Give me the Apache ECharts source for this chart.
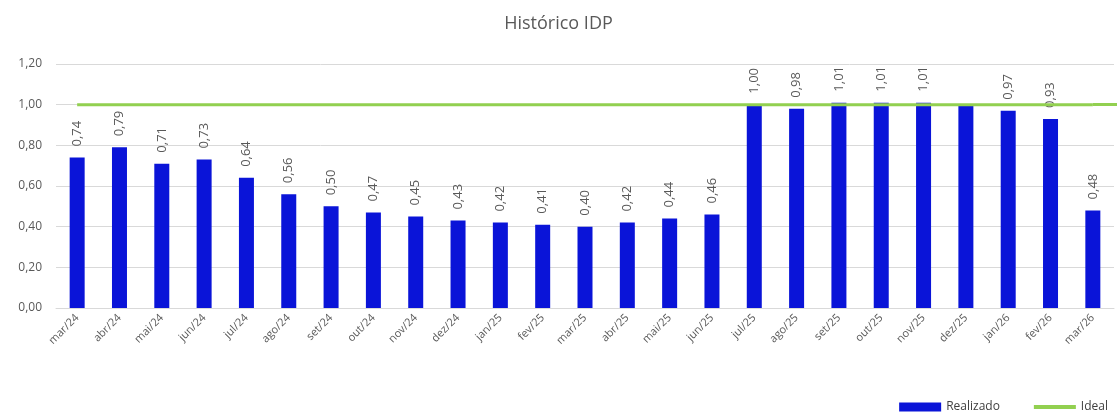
<!DOCTYPE html>
<html>
<head>
<meta charset="utf-8">
<script src="https://cdn.jsdelivr.net/npm/echarts@6/dist/echarts.min.js"></script>
<style>
    html, body { margin: 0; padding: 0; background: #fff; }
    #chart1 { width: 1117px; height: 417px; }
</style>
</head>
<body>
<div id="chart1"></div>
<script>
// data
var months = ['mar/24','abr/24','mai/24','jun/24','jul/24','ago/24','set/24','out/24','nov/24','dez/24',
    'jan/25','fev/25','mar/25','abr/25','mai/25','jun/25','jul/25','ago/25','set/25','out/25','nov/25','dez/25',
    'jan/26','fev/26','mar/26'];
var realizado = [0.74,0.79,0.71,0.73,0.64,0.56,0.50,0.47,0.45,0.43,0.42,0.41,0.40,0.42,0.44,0.46,
    1.00,0.98,1.01,1.01,1.01,1.00,0.97,0.93,0.48];
var hiddenLabels = ['dez/25'];   // no value shown on this bar in the original
var idealValue = 1.00;
var yTicks = { min: 0, max: 1.2, step: 0.2 };

function fmt(v) {
    return Number(v).toFixed(2).replace('.', ',');
}

var ideal = [];
for (var i = 0; i < months.length; i++) {
    ideal.push(idealValue);
}

var barData = [];
for (var i = 0; i < realizado.length; i++) {
    var item = { value: realizado[i] };
    if (hiddenLabels.indexOf(months[i]) >= 0) {
        item.label = { show: false };
    }
    barData.push(item);
}

var gridLeft = 56, gridRight = 3;
var myChart = echarts.init(document.getElementById('chart1'));
var option = {
    animation: false,
    textStyle: { fontFamily: 'Open Sans' },
    title: {
        text: 'Histórico IDP',
        left: 'center',
        top: 10,
        textStyle: { color: '#595959', fontSize: 18, fontWeight: 'normal', fontFamily: 'Open Sans' }
    },
    legend: {
        right: 4,
        bottom: -1,
        itemWidth: 42,
        itemHeight: 9,
        itemGap: 34,
        textStyle: { color: '#404040', fontSize: 12 },
        data: [
            { name: 'Realizado', icon: 'rect' },
            { name: 'Ideal', icon: 'path://M0,0 H42 V4 H0 Z' }
        ]
    },
    grid: { left: gridLeft, right: gridRight, top: 64, bottom: 109 },
    xAxis: {
        type: 'category',
        data: months,
        axisTick: { show: false },
        axisLine: { lineStyle: { color: '#d9d9d9' } },
        axisLabel: { rotate: 45, color: '#595959', fontSize: 11, margin: 8 }
    },
    yAxis: {
        type: 'value',
        min: yTicks.min,
        max: yTicks.max,
        interval: yTicks.step,
        axisLabel: { color: '#595959', fontSize: 12, formatter: fmt, margin: 14 },
        splitLine: { lineStyle: { color: '#d9d9d9' } },
        axisLine: { show: false },
        axisTick: { show: false }
    },
    series: [
        {
            name: 'Realizado',
            type: 'bar',
            barWidth: 15,
            itemStyle: { color: '#0a14d8' },
            label: {
                show: true,
                position: 'top',
                rotate: 90,
                align: 'left',
                verticalAlign: 'middle',
                distance: 11,
                color: '#595959',
                fontSize: 13,
                formatter: function (p) { return fmt(p.value); }
            },
            data: barData,
            z: 2
        },
        {
            name: 'Ideal',
            type: 'line',
            symbol: 'none',
            lineStyle: { color: '#92d050', width: 3 },
            itemStyle: { color: '#92d050' },
            data: ideal,
            z: 3,
            markLine: {
                silent: true,
                symbol: 'none',
                label: { show: false },
                lineStyle: { color: '#92d050', width: 3, type: 'solid' },
                data: [[
                    { coord: [months.length - 1, idealValue] },
                    { coord: [months.length - 1, idealValue], x: 1117 - gridRight + 3 }
                ]]
            }
        }
    ]
};
myChart.setOption(option);
</script>
</body>
</html>
